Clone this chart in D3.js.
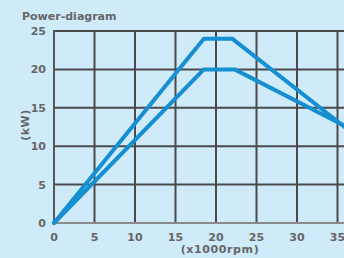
<!DOCTYPE html>
<html>
<head>
<meta charset="utf-8">
<script src="https://cdn.jsdelivr.net/npm/d3@7"></script>
<style>
  html, body { margin: 0; padding: 0; background: #cfeaf8; }
  svg { display: block; }
  text { font-family: "DejaVu Sans", sans-serif; font-weight: bold; fill: #666; }
</style>
</head>
<body>
<svg id="chart" width="344" height="258"></svg>
<script>
// データ (x1000rpm, kW)
const xTicks = [0, 5, 10, 15, 20, 25, 30, 35];
const yTicks = [0, 5, 10, 15, 20, 25];
const upperRpm = [0, 18.5, 22, 36];
const upperKw = [0, 24, 24, 12.4];
const lowerRpm = [0, 18.5, 22.3, 36];
const lowerKw = [0, 20, 20, 12.6];

const svg = d3.select("#chart");
const W = 344, H = 258;

const x = d3.scaleLinear().domain([0, 36]).range([54, 345.6]);
const y = d3.scaleLinear().domain([0, 25]).range([223, 31]);

// 背景
svg.append("rect").attr("width", W).attr("height", H).attr("fill", "#cfeaf8");

// 横グリッド
svg.append("g").selectAll("line")
  .data(yTicks.filter(d => d > 0))
  .enter().append("line")
  .attr("x1", x(0)).attr("x2", W)
  .attr("y1", d => y(d)).attr("y2", d => y(d))
  .attr("stroke", "#4a4a4a").attr("stroke-width", 2);

// 縦グリッド
svg.append("g").selectAll("line")
  .data(xTicks.filter(d => d > 0))
  .enter().append("line")
  .attr("x1", d => x(d)).attr("x2", d => x(d))
  .attr("y1", y(25)).attr("y2", y(0))
  .attr("stroke", "#4a4a4a").attr("stroke-width", 2);

// 軸線
svg.append("line")
  .attr("x1", x(0)).attr("x2", W)
  .attr("y1", y(0)).attr("y2", y(0))
  .attr("stroke", "#8a8a8a").attr("stroke-width", 2);
svg.append("line")
  .attr("x1", x(0)).attr("x2", x(0))
  .attr("y1", y(25) - 1).attr("y2", y(0) + 1)
  .attr("stroke", "#555").attr("stroke-width", 2);

// 曲線
const line = d3.line().x(d => x(d[0])).y(d => y(d[1]));
[[upperRpm, upperKw], [lowerRpm, lowerKw]].forEach(([xs, ys]) => {
  svg.append("path")
    .datum(xs.map((v, i) => [v, ys[i]]))
    .attr("d", line)
    .attr("fill", "none")
    .attr("stroke", "#158fd2")
    .attr("stroke-width", 4)
    .attr("stroke-linejoin", "round")
    .attr("stroke-linecap", "round");
});

// 目盛ラベル
svg.append("g").selectAll("text")
  .data(xTicks)
  .enter().append("text")
  .attr("x", d => x(d))
  .attr("y", 241)
  .attr("text-anchor", "middle")
  .attr("font-size", "11px")
  .text(d => d);

svg.append("g").selectAll("text")
  .data(yTicks)
  .enter().append("text")
  .attr("x", 46)
  .attr("y", d => y(d) + 4)
  .attr("text-anchor", "end")
  .attr("font-size", "11px")
  .text(d => d);

// タイトル・単位
svg.append("text")
  .attr("x", 22).attr("y", 20)
  .attr("font-size", "11px")
  .text("Power-diagram");

svg.append("text")
  .attr("transform", "translate(29,125) rotate(-90)")
  .attr("text-anchor", "middle")
  .attr("font-size", "11px")
  .attr("letter-spacing", "0.5px")
  .text("(kW)");

svg.append("text")
  .attr("x", 220).attr("y", 253)
  .attr("text-anchor", "middle")
  .attr("font-size", "11px")
  .attr("letter-spacing", "0.6px")
  .text("(x1000rpm)");
</script>
</body>
</html>
